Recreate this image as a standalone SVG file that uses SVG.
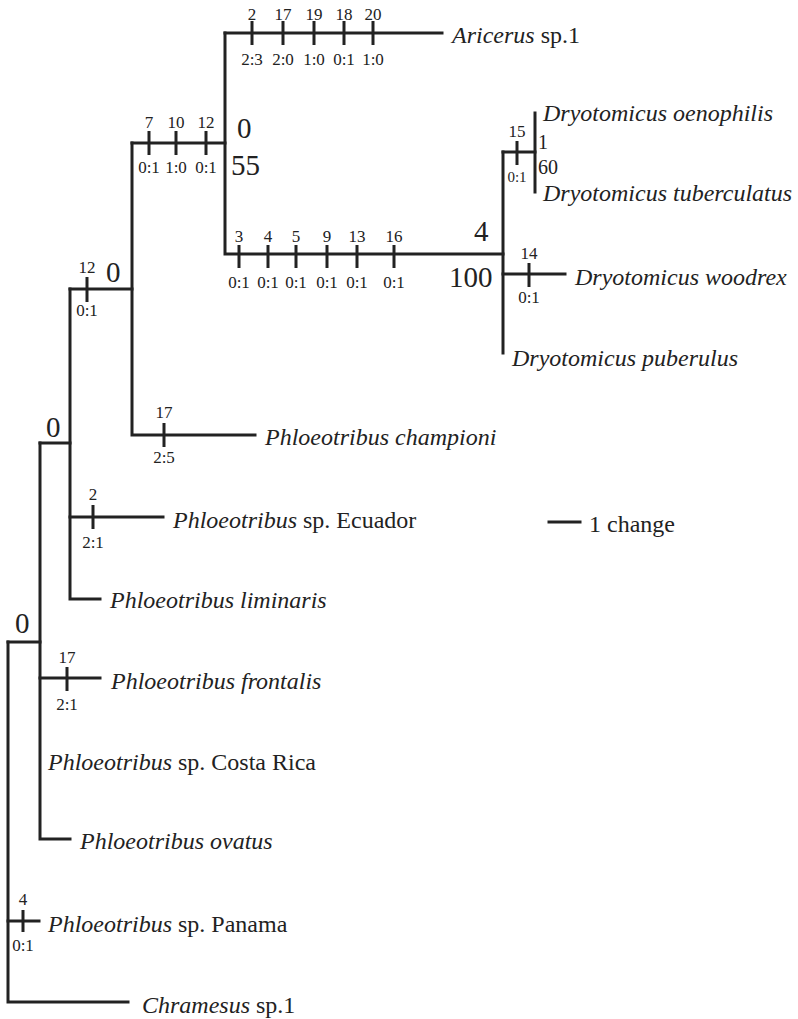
<svg xmlns="http://www.w3.org/2000/svg" width="798" height="1019" viewBox="0 0 798 1019">
<style>
.br{stroke:#222;stroke-width:3;fill:none;stroke-linecap:square}
.tk{stroke:#222;stroke-width:3;fill:none}
.sp{font-family:"Liberation Serif",serif;font-size:24px;fill:#222}
.i{font-style:italic}
.sm{font-family:"Liberation Serif",serif;font-size:17px;fill:#222;text-anchor:middle}
.bg{font-family:"Liberation Serif",serif;font-size:29px;fill:#222}
.md{font-family:"Liberation Serif",serif;font-size:20px;fill:#222}
</style>
<rect width="798" height="1019" fill="#fff"/>
<g id="connectors">
<path class="br" d="M8,642 V1002 H128"/>
<path class="br" d="M8,642 H40"/>
<path class="br" d="M8,921 H39"/>
<path class="br" d="M40,443 V839 H70"/>
<path class="br" d="M40,678 H100"/>
<path class="br" d="M40,443 H70"/>
<path class="br" d="M70,289 V599 H100"/>
<path class="br" d="M70,517 H163"/>
<path class="br" d="M70,289 H132"/>
<path class="br" d="M132,143 V435 H255"/>
<path class="br" d="M132,143 H225"/>
<path class="br" d="M225,33 V254 H503"/>
<path class="br" d="M225,33 H442"/>
<path class="br" d="M503,152 V353"/>
<path class="br" d="M503,152 H535"/>
<path class="br" d="M535,113 V192"/>
<path class="br" d="M503,274 H565"/>
<path class="br" d="M549,522 H580"/>
</g>
<g id="ticks">
<path class="tk" d="M23,910 V932 M67,667 V691 M93,505 V529 M87,277 V302 M164,423 V447 M149,131 V155 M176,131 V155 M206,131 V155 M252,21 V45 M283,21 V45 M314,21 V45 M344,21 V45 M373,21 V45 M239,245 V268 M268,245 V268 M296,245 V268 M327,245 V268 M357,245 V268 M394,245 V268 M517,141 V165 M529,263 V287"/>
</g>
<g id="node-root"><text class="bg" x="15" y="633">0</text></g>
<g id="node-a"><text class="bg" x="46" y="437">0</text></g>
<g id="node-b"><text class="bg" x="106" y="282">0</text></g>
<g id="node-c"><text class="bg" x="237" y="138">0</text><text class="bg" x="231" y="175">55</text></g>
<g id="node-d"><text class="bg" x="474" y="241">4</text><text class="bg" x="449" y="287">100</text></g>
<g id="node-e"><text class="md" x="538" y="149">1</text><text class="md" x="538" y="174">60</text></g>
<g id="labels">
<text class="sm" x="23" y="905">4</text><text class="sm" x="23" y="951">0:1</text>
<text class="sm" x="67" y="663">17</text><text class="sm" x="67" y="710">2:1</text>
<text class="sm" x="93" y="500">2</text><text class="sm" x="93" y="548">2:1</text>
<text class="sm" x="87" y="273">12</text><text class="sm" x="87" y="316">0:1</text>
<text class="sm" x="164" y="418">17</text><text class="sm" x="164" y="463">2:5</text>
<text class="sm" x="149" y="128">7</text><text class="sm" x="149" y="173">0:1</text>
<text class="sm" x="176" y="128">10</text><text class="sm" x="176" y="173">1:0</text>
<text class="sm" x="206" y="128">12</text><text class="sm" x="206" y="173">0:1</text>
<text class="sm" x="252" y="20">2</text><text class="sm" x="252" y="65">2:3</text>
<text class="sm" x="283" y="20">17</text><text class="sm" x="283" y="65">2:0</text>
<text class="sm" x="314" y="20">19</text><text class="sm" x="314" y="65">1:0</text>
<text class="sm" x="344" y="20">18</text><text class="sm" x="344" y="65">0:1</text>
<text class="sm" x="373" y="20">20</text><text class="sm" x="373" y="65">1:0</text>
<text class="sm" x="239" y="242">3</text><text class="sm" x="239" y="288">0:1</text>
<text class="sm" x="268" y="242">4</text><text class="sm" x="268" y="288">0:1</text>
<text class="sm" x="296" y="242">5</text><text class="sm" x="296" y="288">0:1</text>
<text class="sm" x="327" y="242">9</text><text class="sm" x="327" y="288">0:1</text>
<text class="sm" x="357" y="242">13</text><text class="sm" x="357" y="288">0:1</text>
<text class="sm" x="394" y="242">16</text><text class="sm" x="394" y="288">0:1</text>
<text class="sm" x="517" y="137">15</text><text class="sm" x="517" y="182" style="font-size:15px">0:1</text>
<text class="sm" x="529" y="259">14</text><text class="sm" x="529" y="303">0:1</text>
</g>
<g id="taxon-aricerus"><text class="sp" x="452" y="43"><tspan class="i">Aricerus</tspan> sp.1</text></g>
<g id="taxon-oenophilis"><text class="sp i" x="543" y="121">Dryotomicus oenophilis</text></g>
<g id="taxon-tuberculatus"><text class="sp i" x="543" y="201">Dryotomicus tuberculatus</text></g>
<g id="taxon-woodrex"><text class="sp i" x="575" y="285">Dryotomicus woodrex</text></g>
<g id="taxon-puberulus"><text class="sp i" x="512" y="366">Dryotomicus puberulus</text></g>
<g id="taxon-championi"><text class="sp i" x="265" y="445">Phloeotribus championi</text></g>
<g id="taxon-ecuador"><text class="sp" x="173" y="528"><tspan class="i">Phloeotribus</tspan> sp. Ecuador</text></g>
<g id="taxon-liminaris"><text class="sp i" x="110" y="608">Phloeotribus liminaris</text></g>
<g id="taxon-frontalis"><text class="sp i" x="111" y="689">Phloeotribus frontalis</text></g>
<g id="taxon-costarica"><text class="sp" x="48" y="770"><tspan class="i">Phloeotribus</tspan> sp. Costa Rica</text></g>
<g id="taxon-ovatus"><text class="sp i" x="80" y="849">Phloeotribus ovatus</text></g>
<g id="taxon-panama"><text class="sp" x="48" y="932"><tspan class="i">Phloeotribus</tspan> sp. Panama</text></g>
<g id="taxon-chramesus"><text class="sp" x="142" y="1013"><tspan class="i">Chramesus</tspan> sp.1</text></g>
<g id="scale"><text class="sp" x="589" y="532">1 change</text></g>
</svg>
